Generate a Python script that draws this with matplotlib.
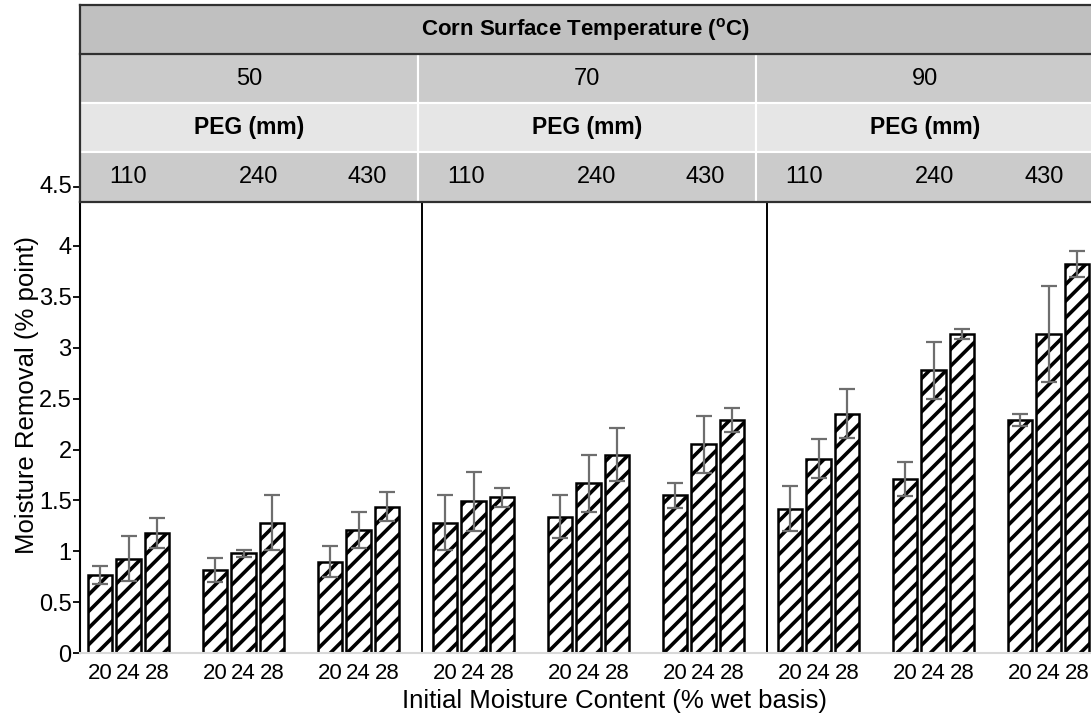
import numpy as np
import matplotlib
matplotlib.use('Agg')
import matplotlib.pyplot as plt
from matplotlib.patches import Rectangle

plt.rcParams['font.family'] = ['Liberation Sans Narrow', 'Liberation Sans', 'DejaVu Sans']
plt.rcParams['hatch.linewidth'] = 2.6

# data: temperature panels, PEG groups, moisture content bars
temps = ['50', '70', '90']
pegs = ['110', '240', '430']
moist = ['20', '24', '28']

# mean moisture removal (% point), one row per temperature, PEG-major order
means = {
    '50': [0.77, 0.93, 1.18, 0.82, 0.98, 1.28, 0.90, 1.21, 1.44],
    '70': [1.28, 1.49, 1.53, 1.34, 1.67, 1.95, 1.55, 2.05, 2.29],
    '90': [1.42, 1.91, 2.35, 1.71, 2.78, 3.13, 2.29, 3.13, 3.82],
}
errs = {
    '50': [0.09, 0.22, 0.15, 0.12, 0.03, 0.27, 0.15, 0.18, 0.14],
    '70': [0.27, 0.29, 0.09, 0.21, 0.28, 0.26, 0.12, 0.28, 0.12],
    '90': [0.22, 0.19, 0.24, 0.17, 0.28, 0.05, 0.06, 0.47, 0.13],
}

bar_off = [0.174, 0.422, 0.67]
bar_w = 0.21
cell_w = 2.94

fig = plt.figure(figsize=(10.91, 7.19), dpi=100)
ax = fig.add_axes([80 / 1091, 65.7 / 719, 1011 / 1091, 451.8 / 719])
sx = fig.add_axes([80 / 1091, (719 - 201.5) / 719, 1011 / 1091, 196.5 / 719])

xs, ys, es, labs = [], [], [], []
for p, t in enumerate(temps):
    for g in range(len(pegs)):
        for b, m in enumerate(moist):
            i = g * 3 + b
            xs.append(p * 3 + g + bar_off[b])
            ys.append(means[t][i])
            es.append(errs[t][i])
            labs.append(m)

ax.bar(xs, ys, width=bar_w, color='white', edgecolor='black', linewidth=1.8,
       hatch='//', zorder=2)
ax.errorbar(xs, ys, yerr=es, fmt='none', ecolor='#6e6e6e', elinewidth=1.6,
            capsize=6, capthick=1.6, zorder=3)

for p in range(1, len(temps)):
    ax.axvline(p * 3 - 0.03, color='black', linewidth=1.4, zorder=1)

xmax = 1011 / 115
ax.set_xlim(0, xmax)
ax.set_ylim(0, 4.434)
ax.set_xticks(xs)
ax.set_xticklabels(labs, fontsize=16)
ax.tick_params(axis='x', length=0, pad=7)
ax.set_yticks(np.arange(0, 4.01, 0.5))
ax.set_yticklabels(['0', '0.5', '1', '1.5', '2', '2.5', '3', '3.5', '4'], fontsize=17)
ax.tick_params(axis='y', length=5, width=1.3, pad=1)
# extra 4.5 tick sits above the panel, next to the strips
ytr = ax.get_yaxis_transform()
ax.plot([-0.006, 0], [4.576, 4.576], transform=ytr, color='black', lw=1.3, clip_on=False)
ax.text(-0.008, 4.576, '4.5', transform=ytr, ha='right', va='center', fontsize=17)

for s in ['top', 'right']:
    ax.spines[s].set_visible(False)
ax.spines['bottom'].set_color('#d8d8d8')
ax.spines['bottom'].set_linewidth(1.5)
ax.spines['left'].set_linewidth(1.5)

ax.set_ylabel('Moisture Removal (% point)', fontsize=18.5)
ax.yaxis.set_label_coords(-0.041, 0.572)
ax.set_xlabel('Initial Moisture Content (% wet basis)', fontsize=18.5)
ax.xaxis.set_label_coords(0.529, -0.079)

# strip header
sx.set_xlim(0, xmax)
sx.set_ylim(0, 4)
sx.axis('off')
sx.add_patch(Rectangle((0, 3), xmax, 1, facecolor='#c0c0c0', edgecolor='none'))
sx.text(xmax / 2, 3.5, 'Corn Surface Temperature ($^{\\mathregular{o}}$C)',
        ha='center', va='center', fontsize=16, fontweight='bold')
row_cols = ['#cbcbcb', '#e6e6e6', '#cbcbcb']
for p, t in enumerate(temps):
    x0 = p * cell_w
    for r, c in zip([2, 1, 0], row_cols):
        sx.add_patch(Rectangle((x0, r), cell_w, 1, facecolor=c, edgecolor='white', linewidth=1.5))
    sx.text(x0 + cell_w / 2, 2.5, t, ha='center', va='center', fontsize=17)
    sx.text(x0 + cell_w / 2, 1.5, 'PEG (mm)', ha='center', va='center',
            fontsize=16.5, fontweight='bold')
    for k, pg in enumerate(pegs):
        sx.text(x0 + [0.42, 1.55, 2.5][k], 0.5, pg, ha='center', va='center', fontsize=17)

for yy in [0, 3, 4]:
    sx.plot([0, xmax], [yy, yy], color='#303030', lw=1.6, clip_on=False)
sx.plot([0, 0], [0, 4], color='#303030', lw=1.6, clip_on=False)

fig.savefig('out.png', dpi=100)
